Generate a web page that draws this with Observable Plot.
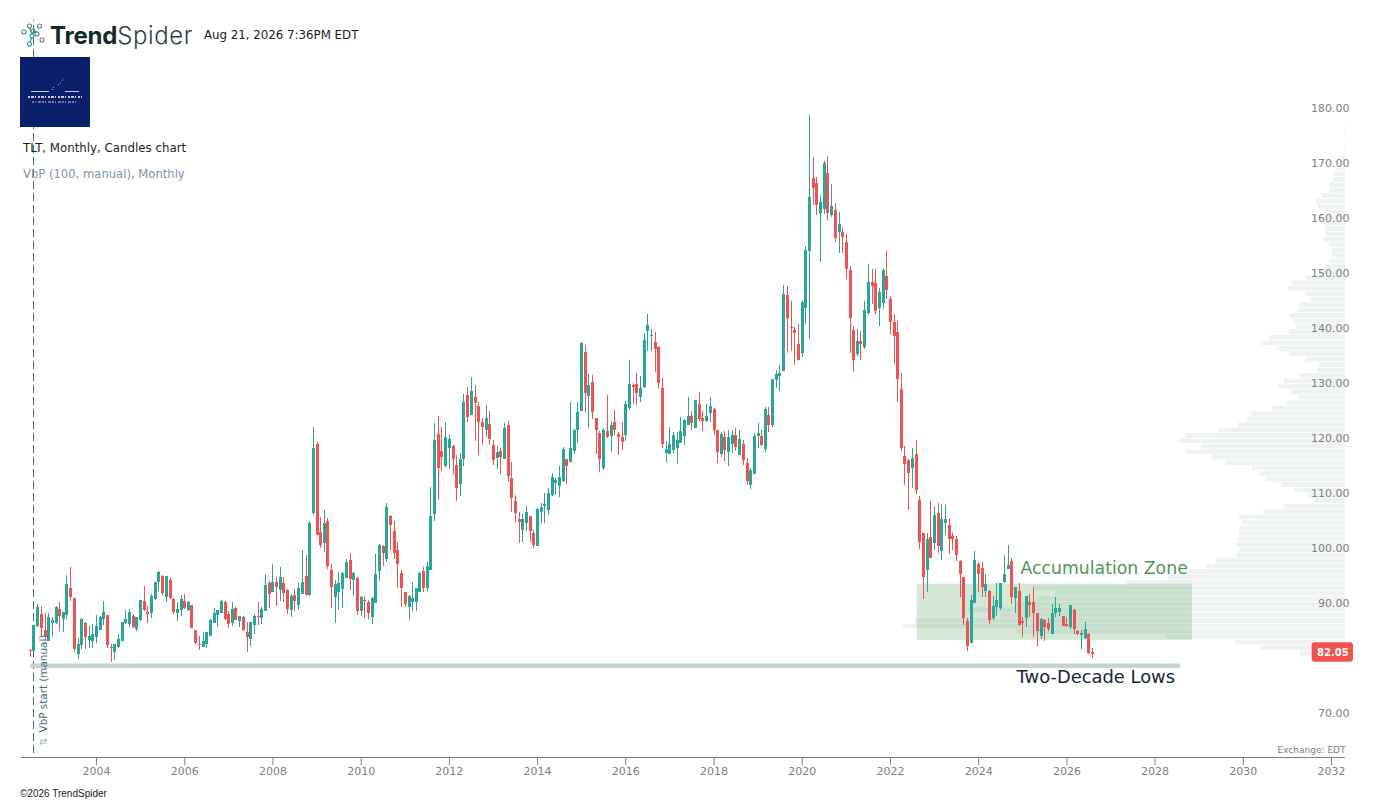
<!DOCTYPE html>
<html><head><meta charset="utf-8">
<script src="https://cdn.jsdelivr.net/npm/d3@7"></script>
<script src="https://cdn.jsdelivr.net/npm/@observablehq/plot@0.6"></script>
<style>
html,body{margin:0;padding:0;background:#fff;width:1375px;height:803px;overflow:hidden}
#wrap{position:relative;width:1375px;height:803px}
#wrap svg.plot{position:absolute;left:0;top:0;display:block}
.o{position:absolute;white-space:nowrap;font-family:"DejaVu Sans",sans-serif}
</style></head><body>
<div id="wrap">
<div id="chart"></div>
<svg class="o" style="left:17px;top:20px" width="30" height="30" viewBox="0 0 30 30" fill="none" stroke="#3f8f88" stroke-width="1.1">
 <circle cx="7" cy="12" r="2"/><circle cx="12.5" cy="6" r="2" stroke="#5b7f86"/><circle cx="16" cy="11" r="2" stroke="#1e9f8f"/><circle cx="22.5" cy="6" r="2" stroke="#5b7f86"/><circle cx="20" cy="14" r="2" stroke="#5b7f86"/><circle cx="12.5" cy="24" r="2" stroke="#1e9f8f"/><circle cx="15" cy="16" r="2" stroke="#1e9f8f"/><circle cx="25" cy="20" r="2" stroke="#5b7f86"/>
 <path d="M12.5 8L15 14M15 18L13 22M16 13L15 14M17 11L20 12" stroke="#1e9f8f"/>
</svg>
<div class="o" style="left:50px;top:20px;font-family:Inter,sans-serif;font-size:24px;line-height:32px;color:#14292b;font-weight:700;letter-spacing:-.2px">Trend<span style="font-weight:300;color:#2c3f44;letter-spacing:.6px">Spider</span></div>
<div class="o" style="left:204px;top:27px;font-size:11.8px;line-height:16px;color:#1a1a1a">Aug 21, 2026 7:36PM EDT</div>
<svg class="o" style="left:20px;top:57px" width="70" height="70" viewBox="0 0 70 70">
 <rect width="70" height="70" fill="#0c1f6c"/>
 <path d="M11 34.5H29M45 34.5H59" stroke="#fff" stroke-width=".8"/>
 <path d="M32 33L34 29.5M38 28L41 25.5M42 23.5L44 21.5" stroke="#fff" stroke-width=".8" stroke-dasharray="1 1.5"/>
 <path d="M8 40H62" stroke="#fff" stroke-width="1.4" stroke-dasharray="2 1 3 1 1 2"/>
 <path d="M12 45H58" stroke="#fff" stroke-width=".8" stroke-dasharray="2 1 1 2 3 1"/>
</svg>
<div class="o" style="left:23px;top:140px;font-size:11.8px;line-height:16px;color:#1a1f24">TLT, Monthly, Candles chart</div>
<div class="o" style="left:23px;top:166px;font-size:11.6px;line-height:16px;color:#7d93ad">VbP (100, manual), Monthly</div>
<div class="o" style="left:20px;top:787px;font-family:'Liberation Sans',Arial,sans-serif;font-size:10px;line-height:13px;color:#1a1a1a">©2026 TrendSpider</div>
</div>
<script>
const firstMonth = "2002-07-01", lastMonthEnd = "2026-09-01";
const opens = [
81.4,81.3,85.8,88,85.1,83.1,86.4,86.3,88.9,87.1,
87.8,92.7,90.9,80.7,82.4,86.4,83.3,83.1,83.8,85.1,
87.1,87.8,82,81.1,82,83.1,86.4,86.2,87.6,85.3,
86.9,90.4,88.4,88.2,90.7,93.8,94.9,91.1,94.2,90.7,
88.2,88.7,90.4,88.7,89.6,85.1,82.5,82,82.5,84,
86.4,87.8,88.2,90.2,88,86.4,89.1,86.7,87.5,84.7,
83.5,86,87.6,87.3,88.5,93.6,92,93.8,92.4,93.6,
92.4,88.7,91.5,89.6,91.6,94.9,91.5,106.4,118.9,102.9,
100.9,104.9,96,91.1,92,92.5,94.5,97.8,94.2,94.5,
88.5,90.5,90.2,87.5,90,95.8,100.4,98,105.8,103.1,
99.6,95.4,92,89.3,90.2,90.2,92,95.8,92.7,96,
106.2,120.7,117.6,114.9,118.2,118.5,115.1,111.6,116.2,127.8,
124.2,127.5,125.8,122.9,121.5,122.5,118.7,116.4,117.6,116.2,
122.4,112.7,108.5,105.3,103.3,104.5,105.8,102.7,100.4,106.5,
107.6,106.9,109.6,111.8,111.3,112.2,116.2,115.6,117.6,121.5,
124.9,135.6,127.6,130.2,123.6,120.9,114.5,121.3,120.4,122.9,
120.7,120.2,120.5,125.5,129.6,129.8,127.5,129.3,139.5,138.6,
137.5,136.5,129.1,117.3,117.1,117.8,118.2,119.1,120.4,122.4,
124,121.8,126.2,123.6,123.1,124.5,125.3,121.5,117.1,120.2,
117.5,118.9,120.5,116.9,118.9,115.5,111.5,113.5,120.4,120.4,
118,124.2,122.4,130.5,131.3,132.2,146,140.2,139.6,137.1,
135.5,143.6,154,167.3,166.4,160.9,161.6,168.2,160.5,161.4,
157.4,157.4,155.6,150.5,139.6,135.3,137.6,136.5,142.7,148.4,
148.2,143.6,144.5,149.5,145.3,141.1,139.3,128.9,116.7,116,
114.5,117.1,108.7,102.7,96,102,100.9,106.4,99.4,104.5,
104.2,102.2,101.6,97.6,94.7,86.7,82.7,90,97.1,96.4,
92.2,92.2,87.3,89.3,89.1,93.8,96.2,97.6,90.9,92.2,
86.7,87.3,90.2,90.2,88.2,84,86.9,86.4,84.4,88.2,
88.4,87.6,86.2,85.6,88.7,84.9,84.2,83.6,84.4,81.1];
const closes = [
81.2,86,89.3,85.5,84,87.5,86.9,89.3,87.6,88.4,
93.5,91.1,81.7,82.5,87.1,83.8,84,84.4,85.8,87.5,
88.4,82.4,81.8,82.5,83.5,86.5,87.1,88.4,85.6,87.5,
90.5,88.7,88,91.3,93.8,95.6,91.8,94.9,90.9,88.4,
88.9,90.7,89.1,90.2,85.5,82.7,82.3,83.1,84.7,86.9,
88.2,88.7,90.4,87.1,86.2,88.9,86.9,87.6,85.1,83.8,
86.5,87.6,87.4,88.9,93.3,91.6,93.8,92.9,94.7,91.8,
88.9,91.3,90.4,92.7,93.8,91.5,104.5,118.2,102.4,100.5,
104.5,96.7,92.9,93.5,93.6,95.4,97.5,94.4,95.4,88.5,
91.1,90.3,88.2,90.9,95.3,100.5,99.1,107.4,104.2,99.1,
97.1,92.7,89.8,91.3,90.9,92.7,95.4,92.7,96.7,105.8,
119.6,114.5,116.5,120.2,119.8,116.2,110.9,116.2,126.5,123.8,
128.5,126.4,122.9,122,123.6,119.8,116,117.5,116.5,121.8,
113.1,109.1,106.4,104.7,105.3,106.5,103.1,100.5,107.1,107.4,
108,110,112.9,112.4,112.9,118,114.9,118.2,121.5,124.7,
137.3,128.2,129.6,124.7,121.5,116.2,121.5,120.2,122.4,121.5,
120.2,119.3,126.2,129.8,129.3,128.2,129.1,137.8,140.5,138.8,
136.2,130,118.9,118,118.9,120.5,119.6,121.3,123.3,124,
122.7,126.9,123.5,123.1,124,125.8,121.5,117.5,120.7,117.8,
120.2,120.5,118.4,119.8,116,112.2,114.2,120.4,120.9,118.7,
125.3,122.4,130.7,131.6,131.8,146.2,141.8,140,139.1,134.2,
144.7,154.2,163.8,165.5,162.4,162.9,170,160.9,162.2,156.4,
158.9,156.5,150.7,141.8,134.2,137.6,137.1,143.3,148.4,147.6,
143.1,146.5,150.5,146.9,141.1,138.5,130.7,118.2,115.3,113.6,
116.4,110.5,101.1,94.7,101.6,98.2,106,100.4,105.3,105.3,
101.6,101.6,98.7,95.3,87.3,82.2,90.5,97.8,95.3,92.9,
93.5,86.9,89.4,90.5,93.6,95.3,96.9,91.1,92.9,86,
86.4,91.3,89.6,88.2,84.9,87.1,85.6,85.3,88.2,89.1,
89.1,85.8,85.8,89.6,85.3,84.4,84.5,85.3,80.9,80.8];
const highs = [
81.6,86,89.9,89.5,88.1,88.2,87.4,89.5,90.2,88.4,
95.1,96.5,90.9,83.6,87.2,86.6,85.8,86.2,87.8,87.7,
90.4,87.8,82.5,82.5,84.4,86.6,88.7,88.9,88,87.5,
90.5,93.1,89.5,91.6,93.8,95.9,95.1,94.9,94.5,90.9,
90.2,91.5,91.6,90.4,89.6,85.1,84,84.7,84.7,87.1,
89.1,88.7,90.5,90.4,88.5,90.2,89.3,87.6,87.7,86.5,
86.5,88,90.2,89.3,95.3,94,97.1,94.7,96.5,94.7,
92.6,91.6,92.6,93.6,99.6,98.7,104.9,122,119.3,105.6,
106.9,105.4,97.1,94.2,95.6,95.6,98,99.1,95.6,94.7,
91.3,91.3,90.5,91.1,98.9,100.7,100.5,108.2,106,104.9,
101.1,96,92,91.5,93.8,92.7,95.6,96.5,97.5,111.1,
122.7,124,122,122.9,120.5,118.7,116.9,117.3,128,129.3,
131.1,129.6,126.5,123.6,126,124.9,119.6,118.5,118.2,122.7,
123.1,115.6,109.6,106.5,106.2,107.6,105.8,103.3,107.3,108.2,
110,110.9,113.6,112.7,114.9,118.4,116.2,126.5,121.6,126.5,
137.5,136.9,131.6,131.5,123.6,121.3,121.8,127.8,123.1,125.1,
121.1,122.9,126.7,134.2,130,131.8,131.3,139.1,142.5,139.8,
139.3,136.7,130.9,119.4,122,121.1,121.1,123.8,123.5,127.5,
124.9,126.9,128.4,124.9,126.2,127.5,125.5,121.5,121.1,121.3,
121.5,121.5,121.8,121.5,119.6,116.4,114.6,120.9,122.7,121.5,
125.6,125.6,130.7,132.4,133.3,147.8,147.6,144.9,140.2,140.7,
144.9,154.9,178.7,171.1,167.5,164.2,170.4,171.3,166.2,162.7,
161.1,158.4,157.1,151.3,140.4,139.8,139.4,144.9,151.6,150.7,
150.7,147.3,150.9,154,145.8,142.5,141.3,131.8,118.5,116.2,
118.2,119.6,109.4,102.7,102.7,108.5,107.6,108.2,108,107.8,
105.5,102.7,102.2,97.8,94.7,87.3,91.5,99.4,97.5,97.5,
95.3,92.4,91.3,93.6,93.6,98.7,100.5,98.2,92.9,93.6,
87.4,91.3,91.6,92.9,88.2,87.3,87.1,87.3,89.8,91.1,
89.8,87.6,87.4,89.6,88.9,85.1,85.1,86.5,84.5,81.9];
const lows = [
80.25,81.2,85.7,83.9,83.3,83,83.9,86.2,84.9,84.8,
87.1,90.4,81.1,79.8,81.6,81.6,81.8,81.8,82.7,85.1,
86,81.8,79.3,79.6,81.8,83.1,86.2,85.6,85.5,84.9,
86.7,88.5,86.4,87.3,90.5,92.2,91.5,90.2,90.8,88,
86.7,87.6,88.9,88.5,85.5,82.5,81.5,82,81.8,84,
86.4,85.6,88.2,86.9,85.5,85.8,86.9,85.7,84.9,81.1,
82.2,84.4,86,86.2,88.5,89.1,92,89.5,90.4,90.2,
88,87.5,88.5,88.7,91.6,91.5,91.3,106,102.4,100,
99.3,96.2,89.1,86.4,88.7,89.1,94.5,92.4,91.3,87.8,
87.6,87.3,87.1,86.2,90,94,96.7,97.5,99.6,98,
92.7,89.3,89.3,86.9,88.5,88.5,92,92,92.2,96,
104.9,108.7,114,114.7,114.4,113.5,108.5,109.5,114.9,122.9,
124.2,119.5,116.9,118.7,120.2,118.7,115.1,114.4,113.5,116.2,
112,106.5,104.7,100.9,101.1,103.1,101.1,100,100.4,104.5,
104.5,106,109.5,109.6,109.3,112,111.6,115.6,117.1,119.1,
124.9,124.7,121.8,123.5,117.1,113.8,114.2,120,117.5,120.5,
116.9,117.8,119.5,125.1,126.2,126,126.5,129.1,135.8,135.8,
132,128.9,118.2,115.6,117.1,117.3,115.5,119.1,118.7,122.4,
121.5,121.8,122.9,121.3,122.9,122.9,120.5,115.5,116.5,115.8,
114.9,117.3,117.6,116.9,115.1,111.5,110.7,113.5,118.2,118.5,
117.5,121.1,122,129.1,128.5,132.2,135.5,135.8,133.3,134.2,
134.7,140.7,138,162.4,160.5,152,160.7,159.6,160.2,155.6,
153.6,153.6,148.9,135.5,132,134.9,134.2,136.2,142.4,144.4,
142.5,140.4,143.5,145.3,138.9,133.5,126.5,117.6,111.5,106.9,
110.9,109.8,99.8,90.7,92,98.2,99.6,99.1,97.8,102.4,
98.9,99.6,97.6,91.1,86,81.3,82.7,90,92,91.1,
91.1,86.2,86.9,87.6,88.7,93.6,96.1,89.8,88.2,85.8,
83.8,85.6,87.5,83.8,82.2,83.5,83.1,84.9,84.4,87.5,
87.6,85.8,85.6,85.3,84.4,84.2,81.6,83.5,80.7,80];

// Volume-by-price profile, top bin first (relative volume)
const vbpPrice = [
177.9,176.91,175.92,174.93,173.94,172.95,171.96,170.97,169.98,168.99,
168,167.01,166.02,165.03,164.04,163.05,162.06,161.07,160.08,159.09,
158.1,157.11,156.12,155.13,154.14,153.15,152.16,151.17,150.18,149.19,
148.2,147.21,146.22,145.23,144.24,143.25,142.26,141.27,140.28,139.29,
138.3,137.31,136.32,135.33,134.34,133.35,132.36,131.37,130.38,129.39,
128.4,127.41,126.42,125.43,124.44,123.45,122.46,121.47,120.48,119.49,
118.5,117.51,116.52,115.53,114.54,113.55,112.56,111.57,110.58,109.59,
108.6,107.61,106.62,105.63,104.64,103.65,102.66,101.67,100.68,99.69,
98.7,97.71,96.72,95.73,94.74,93.75,92.76,91.77,90.78,89.79,
88.8,87.81,86.82,85.83,84.84,83.85,82.86,81.87,80.88];
const vbpVolume = [
0.6,0.6,0.6,0.6,0.6,0.6,0.7,2.5,5,8.3,
11.7,11.7,15.7,15.7,23,29,27,21.7,20,19.7,
19.7,19.7,21.3,15.7,13,13,15,20,25,39.3,
52.3,56.7,40,35,46,47.3,55.7,52,48.7,56.3,
76,84.3,68.7,56,40,26,27.7,45,61,67,
54.3,47,59,73,94,98.3,107,126.3,159.3,165.3,
144.3,160,133.3,120,93,85.7,80,63.3,50.3,36.7,
31,61,82,106.3,103,106,106,106.7,109,105.7,
108.3,130,139,156.7,176.7,218,312,290,308,330,
377,345,430,442,329,179,110,85.7,45];

const yearTicks = [2004,2006,2008,2010,2012,2014,2016,2018,2020,2022,2024,2026,2028,2030,2032];
const priceTicks = [70,90,100,110,120,130,140,150,160,170,180];
const lastPriceLabel = "82.05", lastPriceLevel = 81.1;
const zone = {x1:"2022-08-10",x2:"2028-11-05",y1:83.3,y2:93.5};
const lowsLine = {x1:"2002-07-07",x2:"2028-07-30",y:78.7};
const vbpStart = "2002-07-31";

const GREEN="#2aa596", RED="#ef5350", VBP="#eef2f3", AXIS="#808080";
const FONT='"DejaVu Sans",sans-serif';
const d=s=>new Date(s);
const xStart=d("2002-04-20"), xEnd=d("2032-04-26");
const dates=d3.utcMonth.range(d(firstMonth),d(lastMonthEnd));
const candles=dates.map((date,i)=>({date,o:opens[i],h:highs[i],l:lows[i],c:closes[i],dir:closes[i]>=opens[i]?"up":"down"}));
const vbp=vbpPrice.map((p,i)=>({p,v:vbpVolume[i]}));
// one relative-volume unit is as long as one pixel of the time axis
const msPerVolume=(+xEnd-+xStart)/(1375-21-30);

const chart=Plot.plot({
  width:1375,height:803,
  marginLeft:21,marginRight:30,marginTop:100,marginBottom:46,
  style:{background:"transparent",fontFamily:FONT},
  x:{type:"utc",domain:[xStart,xEnd]},
  y:{domain:[62,181.45]},
  color:{domain:["up","down"],range:[GREEN,RED]},
  marks:[
    Plot.rect(vbp,{x1:()=>xEnd,x2:r=>new Date(+xEnd-r.v*msPerVolume),y1:r=>r.p-0.42,y2:r=>r.p+0.42,fill:VBP}),
    Plot.rect([zone],{x1:r=>d(r.x1),x2:r=>d(r.x2),y1:"y1",y2:"y2",fill:"#4f9f52",fillOpacity:0.24}),
    Plot.ruleX([d(vbpStart)],{y1:62.8,y2:196,stroke:"#4f6685",strokeWidth:1,strokeDasharray:"8,4",shapeRendering:"crispEdges"}),
    Plot.ruleY([lowsLine],{x1:r=>d(r.x1),x2:r=>d(r.x2),y:"y",stroke:"#c4d5d0",strokeWidth:4.5}),
    Plot.ruleX(candles,{x:"date",y1:"l",y2:"h",stroke:"dir",strokeWidth:1,shapeRendering:"crispEdges"}),
    Plot.ruleX(candles,{x:"date",y1:"o",y2:"c",stroke:"dir",strokeWidth:3,shapeRendering:"crispEdges"}),
    Plot.axisX(yearTicks.map(y=>new Date(Date.UTC(y,0,1))),{tickSize:8,tickPadding:2,stroke:AXIS,fill:AXIS,fontSize:11,tickFormat:t=>d3.utcFormat("%Y")(t),label:null}),
    Plot.ruleY([62],{stroke:AXIS,strokeWidth:1}),
    Plot.axisY(priceTicks,{anchor:"right",tickSize:0,tickPadding:4,textAnchor:"end",fill:AXIS,fontSize:11,tickFormat:t=>t.toFixed(2),label:null}),
    Plot.text(["Accumulation Zone"],{x:()=>d("2024-12-13"),y:()=>96.36,text:t=>t,textAnchor:"start",fontSize:17.3,fill:"#4c9a50"}),
    Plot.text(["Two-Decade Lows"],{x:()=>d("2024-11-10"),y:()=>76.55,text:t=>t,textAnchor:"start",fontSize:17.9,fill:"#17263a"}),
    Plot.text(["VbP start (manual)"],{x:()=>d("2002-10-18"),y:()=>66.55,text:t=>t,rotate:-90,textAnchor:"start",fontSize:10.4,fill:"#4f6685"}),
    Plot.text(["⇅"],{x:()=>d("2002-10-18"),y:()=>64.9,text:t=>t,rotate:-90,fontSize:10,fill:"#a9b8b8"}),
    Plot.text(["Exchange: EDT"],{x:()=>xEnd,y:()=>63.3,text:t=>t,textAnchor:"end",fontSize:9,fill:AXIS}),
    Plot.rect([lastPriceLevel],{x1:()=>d("2031-07-25"),x2:()=>d("2032-07-01"),y1:v=>v+1.75,y2:v=>v-1.8,fill:RED,rx:3}),
    Plot.text([lastPriceLabel],{x:()=>d("2032-01-12"),y:()=>lastPriceLevel,text:t=>t,fontSize:10,fontWeight:"bold",fill:"#fff"})
  ]
});
chart.classList.add("plot");
document.getElementById("chart").appendChild(chart);
</script>
</body></html>
